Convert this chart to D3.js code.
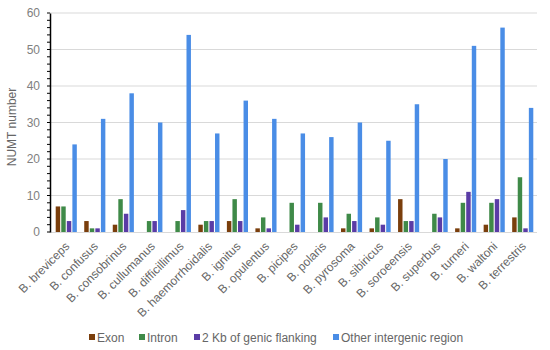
<!DOCTYPE html>
<html><head><meta charset="utf-8">
<script src="https://cdn.jsdelivr.net/npm/d3@7"></script>
<style>body{margin:0;background:#fff}svg{display:block;font-family:"Liberation Sans",Arial,sans-serif}</style>
</head><body><svg id="c" width="550" height="350"></svg>
<script>
const species = ["B. breviceps","B. confusus","B. consobrinus","B. cullumanus","B. difficillimus","B. haemorrhoidalis","B. ignitus","B. opulentus","B. picipes","B. polaris","B. pyrosoma","B. sibiricus","B. soroeensis","B. superbus","B. turneri","B. waltoni","B. terrestris"];
const seriesNames = ["Exon","Intron","2 Kb of genic flanking","Other intergenic region"];
const exon       = [7,3,2,0,0,2,3,1,0,0,1,1,9,0,1,2,4];
const intron     = [7,1,9,3,3,3,9,4,8,8,5,4,3,5,8,8,15];
const flanking   = [3,1,5,3,6,3,3,1,2,4,3,2,3,4,11,9,1];
const intergenic = [24,31,38,30,54,27,36,31,27,26,30,25,35,20,51,56,34];
const yTicks = [0,10,20,30,40,50,60];
const colors = ["#7a3e0c","#3f8a48","#5a3ca6","#4a8de6"];
const seriesVals = [exon,intron,flanking,intergenic];

const svg = d3.select("#c");
const L = 50, R = 537, T = 13, B = 232;
const y = d3.scaleLinear().domain([0,60]).range([B,T]);
const x0 = d3.scaleBand().domain(species).range([L+2,R]).paddingInner(0.26).paddingOuter(0.13);
const x1 = d3.scaleBand().domain(d3.range(4)).range([0,x0.bandwidth()]).paddingInner(0.2);

// gridlines
svg.append("g").selectAll("line").data(yTicks.filter(d=>d>0)).join("line")
  .attr("x1",L).attr("x2",R).attr("y1",d=>y(d)).attr("y2",d=>y(d))
  .attr("stroke","#d9d9d9").attr("stroke-width",1);
svg.append("line").attr("x1",L).attr("x2",R).attr("y1",B+0.5).attr("y2",B+0.5).attr("stroke","#d9d9d9");

// bars
const groups = svg.append("g").selectAll("g").data(species).join("g")
  .attr("transform",d=>`translate(${x0(d)},0)`);
groups.selectAll("rect").data((d,i)=>seriesVals.map((s,k)=>({k,v:s[i]}))).join("rect")
  .attr("x",d=>x1(d.k)).attr("width",x1.bandwidth())
  .attr("y",d=>y(d.v)).attr("height",d=>B-y(d.v))
  .attr("fill",d=>colors[d.k]);

// y axis
const yAxis = d3.axisLeft(y).tickValues(yTicks).tickSize(0).tickPadding(10);
const ya = svg.append("g").attr("transform",`translate(${L},0)`).call(yAxis);
ya.select(".domain").attr("stroke","#000").attr("stroke-width",1.5);
ya.selectAll("text").attr("fill","#808080").attr("font-size",12).attr("font-family","Liberation Sans, Arial, sans-serif");
const minor = d3.range(0,61,2);
svg.append("g").selectAll("line").data(minor).join("line")
  .attr("x1",L-3).attr("x2",L).attr("y1",d=>y(d)).attr("y2",d=>y(d))
  .attr("stroke","#000").attr("stroke-width",1);

// x labels
svg.append("g").selectAll("text").data(species).join("text")
  .attr("transform",d=>`translate(${x0(d)+x0.bandwidth()/2+4},${B+15}) rotate(-45)`)
  .attr("text-anchor","end").attr("font-size",12).attr("fill","#666").text(d=>d);

// y title
svg.append("text").attr("transform",`translate(16,127) rotate(-90)`)
  .attr("text-anchor","middle").attr("font-size",12).attr("fill","#666").text("NUMT number");

// legend
const legX = [89,139,194,333];
const lg = svg.append("g").selectAll("g").data(seriesNames).join("g")
  .attr("transform",(d,i)=>`translate(${legX[i]},337)`);
lg.append("rect").attr("x",0).attr("y",-3).attr("width",6).attr("height",6).attr("fill",(d,i)=>colors[i]);
lg.append("text").attr("x",8).attr("y",4.5).attr("font-size",12).attr("fill","#666").text(d=>d);
</script></body></html>
